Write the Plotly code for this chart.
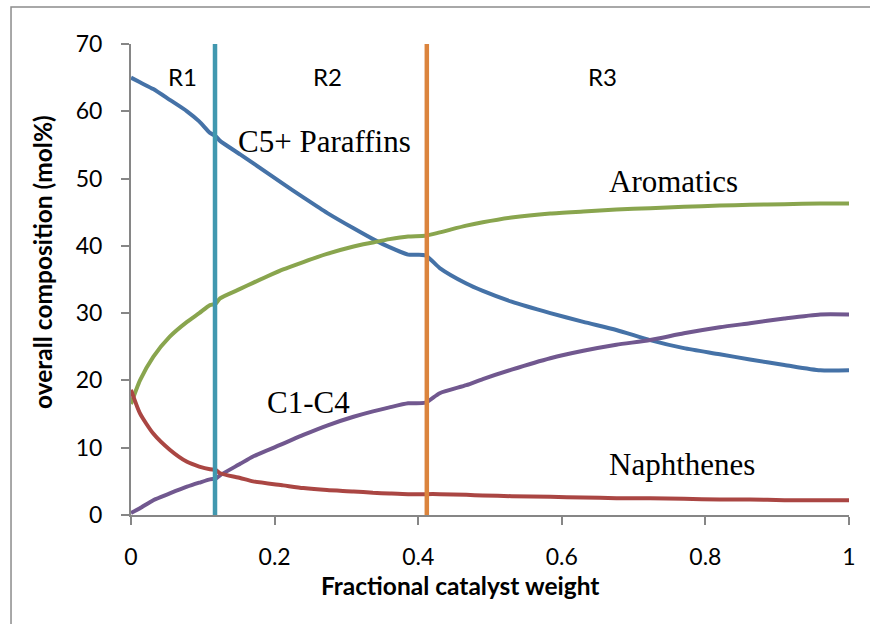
import plotly.graph_objects as go

# Fractional catalyst weight (shared x grid)
x_frac = [0, 0.0125, 0.031, 0.054, 0.078, 0.095, 0.11, 0.118, 0.124, 0.152, 0.17, 0.212,
          0.24, 0.273, 0.31, 0.337, 0.36, 0.386, 0.41, 0.43, 0.467, 0.49, 0.53, 0.584,
          0.63, 0.676, 0.723, 0.77, 0.82, 0.862, 0.91, 0.96, 1.0]

paraffins = [65.0, 64.3, 63.3, 61.7, 60.0, 58.5, 56.8, 56.3, 55.6, 53.6, 52.3, 49.2,
             47.2, 44.9, 42.6, 41.0, 39.8, 38.7, 38.6, 36.7, 34.4, 33.3, 31.7, 30.0,
             28.7, 27.5, 26.0, 24.8, 23.9, 23.1, 22.3, 21.5, 21.5]
aromatics = [16.5, 20.0, 23.5, 26.5, 28.7, 30.0, 31.2, 31.4, 32.2, 33.6, 34.5, 36.5,
             37.6, 38.8, 39.9, 40.5, 41.0, 41.4, 41.5, 42.0, 43.0, 43.5, 44.2, 44.8,
             45.1, 45.4, 45.6, 45.8, 46.0, 46.1, 46.2, 46.3, 46.3]
c1c4 = [0.3, 1.0, 2.2, 3.2, 4.2, 4.8, 5.3, 5.4, 5.9, 7.6, 8.7, 10.6,
        11.9, 13.3, 14.6, 15.4, 16.0, 16.6, 16.7, 18.1, 19.3, 20.2, 21.6, 23.3,
        24.4, 25.3, 26.0, 27.0, 27.9, 28.5, 29.2, 29.8, 29.8]
naphthenes = [18.6, 15.1, 12.1, 9.7, 7.9, 7.2, 6.8, 6.7, 6.2, 5.5, 5.0, 4.4,
              4.0, 3.7, 3.5, 3.3, 3.2, 3.1, 3.1, 3.1, 3.0, 2.9, 2.8, 2.7,
              2.6, 2.5, 2.5, 2.4, 2.3, 2.3, 2.2, 2.2, 2.2]

# Reactor boundaries (fractional catalyst weight)
reactor_bounds = [0.117, 0.412]
reactor_labels = ["R1", "R2", "R3"]
reactor_label_x = [0.072, 0.274, 0.657]

series_labels = ["C5+ Paraffins", "Aromatics", "C1-C4", "Naphthenes"]
series_label_pos = [(0.269, 55.5), (0.755, 49.5), (0.2475, 16.75), (0.768, 7.5)]

x_ticks = [0, 0.2, 0.4, 0.6, 0.8, 1]
x_ticktext = ["0", "0.2", "0.4", "0.6", "0.8", "1"]
y_ticks = [0, 10, 20, 30, 40, 50, 60, 70]

colors = ["#4572A7", "#89A54E", "#71588F", "#AA4643"]
bound_colors = ["#4198AF", "#DB843D"]

fig = go.Figure()
for name, ys, c in zip(series_labels, [paraffins, aromatics, c1c4, naphthenes], colors):
    fig.add_trace(go.Scatter(x=x_frac, y=ys, mode="lines", name=name,
                             line=dict(color=c, width=4, shape="spline", smoothing=0.6),
                             showlegend=False))

for b, c in zip(reactor_bounds, bound_colors):
    fig.add_trace(go.Scatter(x=[b, b], y=[0, 70], mode="lines",
                             line=dict(color=c, width=4.5), showlegend=False,
                             hoverinfo="skip"))

annotations = []
for lab, lx in zip(reactor_labels, reactor_label_x):
    annotations.append(dict(x=lx, y=65.2, xref="x", yref="y", text=lab, showarrow=False,
                            font=dict(family="Lato", size=24, color="#000")))
for lab, (lx, ly) in zip(series_labels, series_label_pos):
    annotations.append(dict(x=lx, y=ly, xref="x", yref="y", text=lab, showarrow=False,
                            font=dict(family="Liberation Serif", size=31, color="#000")))

annotations.append(dict(x=0.458, y=-0.149, xref="paper", yref="paper",
                        text="<b>Fractional catalyst weight</b>", showarrow=False,
                        font=dict(family="Lato", size=24.5, color="#000"),
                        xanchor="center", yanchor="middle"))
annotations.append(dict(x=-0.124, y=0.537, xref="paper", yref="paper",
                        text="<b>overall composition (mol%)</b>", showarrow=False,
                        textangle=-90,
                        font=dict(family="Lato", size=24.5, color="#000"),
                        xanchor="center", yanchor="middle"))

fig.update_layout(
    width=870, height=624,
    margin=dict(l=131, r=21, t=44, b=109),
    paper_bgcolor="white", plot_bgcolor="white",
    annotations=annotations,
    shapes=[dict(type="path", xref="paper", yref="paper",
                 path="M -0.1671,-0.3 L -0.1671,1.0786 L 1.2,1.0786",
                 line=dict(color="#8C8C8C", width=1.5))],
    font=dict(family="Lato", size=23, color="#000"),
)
fig.update_xaxes(range=[0, 1], tickvals=x_ticks, ticktext=x_ticktext,
                 showgrid=False, zeroline=False, showline=True,
                 linecolor="#868686", linewidth=2, ticks="outside", ticklen=8,
                 tickcolor="#868686", tickwidth=2,
                 tickfont=dict(family="Lato", size=23, color="#000"),
                 ticklabelstandoff=12)
fig.update_yaxes(range=[0, 70], tickvals=y_ticks,
                 showgrid=False, zeroline=False, showline=True,
                 linecolor="#868686", linewidth=2, ticks="outside", ticklen=8,
                 tickcolor="#868686", tickwidth=2,
                 tickfont=dict(family="Lato", size=23, color="#000"),
                 ticklabelstandoff=14)

fig.write_html("out.html")
